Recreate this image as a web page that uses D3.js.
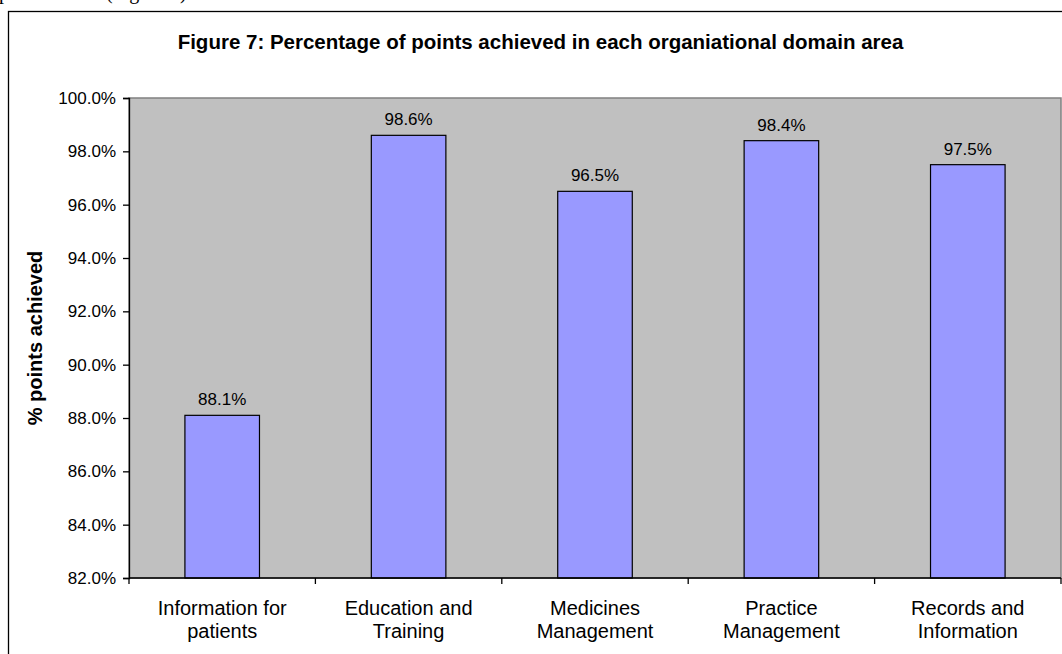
<!DOCTYPE html>
<html>
<head>
<meta charset="utf-8">
<script src="https://cdn.jsdelivr.net/npm/d3@7"></script>
<style>
  html, body { margin: 0; padding: 0; background: #fff; }
  svg { display: block; }
</style>
</head>
<body>
<svg id="chart" width="1062" height="654"></svg>
<script>
const categories = [
  ["Information for", "patients"],
  ["Education and", "Training"],
  ["Medicines", "Management"],
  ["Practice", "Management"],
  ["Records and", "Information"]
];
const values = [88.1, 98.6, 96.5, 98.4, 97.5];
const yTicks = [82, 84, 86, 88, 90, 92, 94, 96, 98, 100];
const titleText = "Figure 7: Percentage of points achieved in each organiational domain area";
const yLabelText = "% points achieved";

(function () {
const svg = d3.select("#chart");
const font = "'Liberation Sans', Arial, sans-serif";

// fragment of surrounding document text (cut off at top, as in the source page)
svg.append("text").attr("x", -1).attr("y", -1)
  .attr("font-family", "'Liberation Serif', 'Times New Roman', serif")
  .attr("font-size", 20).text("p");
svg.append("text").attr("x", 106).attr("y", -1)
  .attr("font-family", "'Liberation Serif', 'Times New Roman', serif")
  .attr("font-size", 20).text("(Figure 7)");

// outer chart frame
svg.append("rect").attr("x", 8.5).attr("y", 11.5)
  .attr("width", 1100).attr("height", 700)
  .attr("fill", "#fff").attr("stroke", "#000").attr("stroke-width", 1.3);

const pl = 129, pr = 1061, pt = 98, pb = 578;

const x = d3.scaleBand()
  .domain(categories.map((c, i) => i))
  .range([pl, pr])
  .paddingInner(0.6)
  .paddingOuter(0.3);

const y = d3.scaleLinear().domain([82, 100]).range([pb, pt]);

// plot background
svg.append("rect").attr("x", pl).attr("y", pt)
  .attr("width", pr - pl).attr("height", pb - pt)
  .attr("fill", "#C0C0C0").attr("stroke", "#808080").attr("stroke-width", 1.5);

// bars
svg.selectAll("rect.bar").data(values).enter().append("rect")
  .attr("class", "bar")
  .attr("x", (d, i) => x(i))
  .attr("width", x.bandwidth())
  .attr("y", d => y(d))
  .attr("height", d => y(82) - y(d))
  .attr("fill", "#9999FF").attr("stroke", "#000").attr("stroke-width", 1.2);

// value labels
svg.selectAll("text.val").data(values).enter().append("text")
  .attr("class", "val")
  .attr("x", (d, i) => x(i) + x.bandwidth() / 2)
  .attr("y", d => y(d) - 10)
  .attr("text-anchor", "middle")
  .attr("font-family", font).attr("font-size", 17).attr("fill", "#000")
  .text(d => d.toFixed(1) + "%");

// y axis
const yAxis = svg.append("g").attr("transform", `translate(${pl},0)`)
  .call(d3.axisLeft(y).tickValues(yTicks).tickSize(6).tickPadding(7)
    .tickFormat(d => d.toFixed(1) + "%"));
yAxis.select(".domain").attr("stroke", "#000").attr("stroke-width", 1.3);
yAxis.selectAll(".tick line").attr("stroke", "#000").attr("stroke-width", 1.3);
yAxis.selectAll(".tick text").attr("font-family", font).attr("font-size", 17).attr("fill", "#000");

// x axis line and boundary ticks
svg.append("line").attr("x1", pl).attr("x2", pr)
  .attr("y1", pb).attr("y2", pb)
  .attr("stroke", "#000").attr("stroke-width", 1.3);
const bounds = d3.range(categories.length + 1).map(i => pl + i * x.step());
svg.selectAll("line.xt").data(bounds).enter().append("line")
  .attr("class", "xt")
  .attr("x1", d => d).attr("x2", d => d)
  .attr("y1", pb).attr("y2", pb + 6)
  .attr("stroke", "#000").attr("stroke-width", 1.3);

// x category labels
const xl = svg.selectAll("text.cat").data(categories).enter().append("text")
  .attr("class", "cat")
  .attr("text-anchor", "middle")
  .attr("font-family", font).attr("font-size", 20).attr("fill", "#000");
xl.each(function(lines, i) {
  const cx = x(i) + x.bandwidth() / 2;
  lines.forEach((ln, j) => {
    d3.select(this).append("tspan").attr("x", cx).attr("y", 615 + j * 23).text(ln);
  });
});

// title
svg.append("text").attr("x", 540.5).attr("y", 49)
  .attr("text-anchor", "middle")
  .attr("font-family", font).attr("font-size", 20.5).attr("font-weight", "bold")
  .text(titleText);

// y axis label
svg.append("text")
  .attr("transform", `translate(42,${(pt + pb) / 2}) rotate(-90)`)
  .attr("text-anchor", "middle")
  .attr("font-family", font).attr("font-size", 20).attr("font-weight", "bold")
  .text(yLabelText);
})();
</script>
</body>
</html>
